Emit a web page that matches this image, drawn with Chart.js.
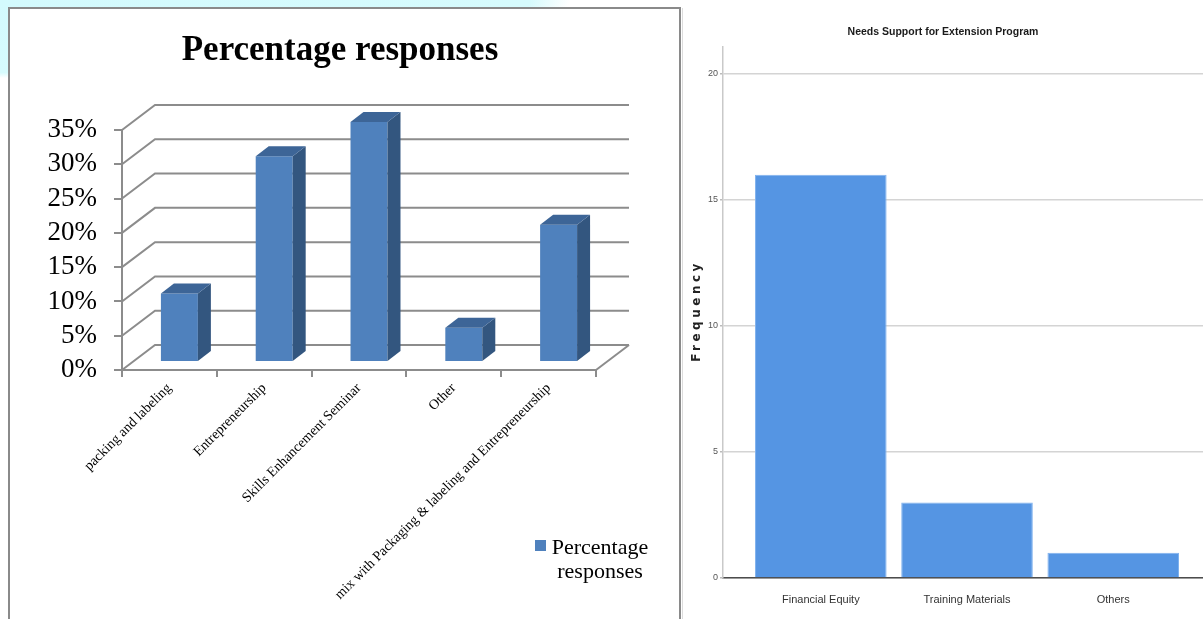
<!DOCTYPE html>
<html>
<head>
<meta charset="utf-8">
<script src="https://cdn.jsdelivr.net/npm/chart.js@4.4.1/dist/chart.umd.min.js"></script>
<style>
  html, body { margin: 0; padding: 0; }
  body {
    width: 1203px; height: 619px; overflow: hidden; position: relative;
    background: #fff radial-gradient(ellipse 570px 78px at 0 0, #d3fafd 0%, #d6fbfd 93%, rgba(214,251,253,0) 100%) no-repeat;
  }
  #leftBox {
    position: absolute; left: 8px; top: 7px; width: 669px; height: 700px;
    border: 2px solid #8a8a8a; background: #fff;
  }
  #rightLine { position: absolute; left: 682px; top: 8px; width: 1px; height: 611px; background: #dcdcdc; }
  #left { position: absolute; left: 0; top: 0; }
  #right { position: absolute; left: 683px; top: 0; }
</style>
</head>
<body>
<div id="leftBox"></div>
<div id="rightLine"></div>
<canvas id="left" width="680" height="619"></canvas>
<canvas id="right" width="520" height="619"></canvas>
<script>
// left chart: percentage responses
const responseCategories = ['packing and labeling', 'Entrepreneurship', 'Skills Enhancement Seminar', 'Other',
  'mix with Packaging & labeling and Entrepreneurship'];
const responsePercent = [10, 30, 35, 5, 20];

// right chart: needs support
const supportCategories = ['Financial Equity', 'Training Materials', 'Others'];
const supportFrequency = [16, 3, 1];

const serif = "'Liberation Serif', 'Times New Roman', serif";
const sans = "'Liberation Sans', Arial, sans-serif";

// 3d look for the excel style chart
const WALL_DX = 33, WALL_DY = -25;
const BAR_DX = 10, BAR_DY = -8;
const DEPTH_X = 13, DEPTH_Y = -10;
const gridGray = '#8c8c8c';

const wall3d = {
  id: 'wall3d',
  beforeDatasetsDraw(chart) {
    const ctx = chart.ctx, a = chart.chartArea, y = chart.scales.y;
    ctx.save();
    ctx.strokeStyle = gridGray;
    ctx.lineWidth = 2;
    y.ticks.forEach(t => {
      const py = y.getPixelForValue(t.value);
      ctx.beginPath();
      ctx.moveTo(a.left, py);
      ctx.lineTo(a.left + WALL_DX, py + WALL_DY);
      ctx.lineTo(a.right + WALL_DX, py + WALL_DY);
      ctx.stroke();
    });
    ctx.beginPath();
    ctx.moveTo(a.right, a.bottom);
    ctx.lineTo(a.right + WALL_DX, a.bottom + WALL_DY);
    ctx.stroke();
    ctx.restore();
    ctx.save();
    ctx.translate(BAR_DX, BAR_DY);
  },
  afterDatasetsDraw(chart) {
    const ctx = chart.ctx;
    ctx.restore();
    chart.getDatasetMeta(0).data.forEach(bar => {
      const l = bar.x - bar.width / 2 + BAR_DX, r = bar.x + bar.width / 2 + BAR_DX;
      const t = bar.y + BAR_DY, b = bar.base + BAR_DY;
      ctx.fillStyle = '#33567f';
      ctx.beginPath();
      ctx.moveTo(r, t); ctx.lineTo(r + DEPTH_X, t + DEPTH_Y);
      ctx.lineTo(r + DEPTH_X, b + DEPTH_Y); ctx.lineTo(r, b);
      ctx.closePath(); ctx.fill();
      ctx.fillStyle = '#3d6597';
      ctx.beginPath();
      ctx.moveTo(l, t); ctx.lineTo(l + DEPTH_X, t + DEPTH_Y);
      ctx.lineTo(r + DEPTH_X, t + DEPTH_Y); ctx.lineTo(r, t);
      ctx.closePath(); ctx.fill();
    });
  }
};

const legendBox = {
  id: 'legendBox',
  afterDraw(chart) {
    const ctx = chart.ctx;
    const ds = chart.data.datasets[0];
    ctx.save();
    ctx.fillStyle = ds.backgroundColor;
    ctx.fillRect(535, 540, 11, 11);
    ctx.fillStyle = '#000';
    ctx.font = '22px ' + serif;
    ctx.textAlign = 'center';
    ctx.textBaseline = 'alphabetic';
    ds.label.split(' ').forEach((w, i) => ctx.fillText(w, 600, 554 + i * 24));
    ctx.restore();
  }
};

new Chart(document.getElementById('left'), {
  type: 'bar',
  data: {
    labels: responseCategories,
    datasets: [{
      label: 'Percentage responses',
      data: responsePercent,
      backgroundColor: '#4f81bd',
      barPercentage: 0.39,
      categoryPercentage: 1
    }]
  },
  options: {
    responsive: false,
    animation: false,
    layout: { padding: 0 },
    plugins: {
      legend: { display: false },
      tooltip: { enabled: false },
      title: {
        display: true,
        text: 'Percentage responses',
        color: '#000',
        font: { family: serif, size: 35, weight: 'bold', lineHeight: 1.2 },
        padding: { top: 30, bottom: 58 }
      }
    },
    scales: {
      x: {
        afterFit: s => { s.height = 249; },
        grid: { offset: true, drawOnChartArea: false, drawTicks: true, tickLength: 7, color: gridGray, lineWidth: 2 },
        border: { display: true, color: gridGray, width: 2 },
        ticks: {
          autoSkip: false, minRotation: 45, maxRotation: 45, padding: 3,
          color: '#000', font: { family: serif, size: 14 }
        }
      },
      y: {
        min: 0, max: 35,
        afterFit: s => { s.width = 122; },
        grid: { drawOnChartArea: false, drawTicks: true, tickLength: 8, color: gridGray, lineWidth: 2 },
        border: { display: true, color: gridGray, width: 2 },
        ticks: {
          stepSize: 5, autoSkip: false, padding: 17, color: '#000',
          font: { family: serif, size: 27 },
          callback: v => v + '%'
        }
      },
      // empty right-hand space, keeps the title centred on the whole panel
      side: {
        position: 'right',
        display: true,
        afterFit: s => { s.width = 84; },
        grid: { display: false },
        border: { display: false },
        ticks: { display: false }
      }
    }
  },
  plugins: [wall3d, legendBox]
});

const freqTitle = {
  id: 'freqTitle',
  afterDraw(chart) {
    const ctx = chart.ctx;
    ctx.save();
    ctx.translate(14, 313);
    ctx.rotate(-Math.PI / 2);
    ctx.font = "bold 12px 'DejaVu Sans', sans-serif";
    ctx.letterSpacing = '3.5px';
    ctx.fillStyle = '#222';
    ctx.textAlign = 'center';
    ctx.textBaseline = 'middle';
    ctx.fillText('Frequency', 2, 0);
    ctx.restore();
  }
};

new Chart(document.getElementById('right'), {
  type: 'bar',
  data: {
    datasets: [{
      label: 'Frequency',
      data: supportFrequency.map((v, i) => ({ x: i, y: v })),
      backgroundColor: '#5595e3',
      borderColor: '#80b2ee',
      borderWidth: 1,
      barPercentage: 0.9,
      categoryPercentage: 1
    }]
  },
  options: {
    responsive: false,
    animation: false,
    layout: { padding: 0 },
    plugins: {
      legend: { display: false },
      tooltip: { enabled: false },
      title: {
        display: true,
        text: 'Needs Support for Extension Program',
        color: '#1a1a1a',
        font: { family: sans, size: 10.5, weight: 'bold', lineHeight: 1.2 },
        padding: { top: 26, bottom: 8.4 }
      }
    },
    scales: {
      x: {
        type: 'linear',
        offset: false,
        min: -0.669, max: 2.614,
        afterFit: s => { s.height = 41; },
        afterBuildTicks: s => { s.ticks = supportCategories.map((c, i) => ({ value: i })); },
        grid: { display: false, drawTicks: false },
        border: { display: true, color: '#4d4d4d', width: 1.5 },
        ticks: {
          autoSkip: false, maxRotation: 0, padding: 15, color: '#333',
          font: { family: sans, size: 11 },
          callback: v => supportCategories[v]
        }
      },
      y: {
        min: 0, max: 21.07,
        afterFit: s => { s.width = 40; },
        grid: { color: '#d4d4d4', lineWidth: 1.5, drawTicks: true, tickLength: 3, tickColor: '#bbb' },
        border: { display: true, color: '#c9c9c9', width: 1.5 },
        ticks: {
          stepSize: 5, includeBounds: false, padding: 2, color: '#555',
          font: { family: sans, size: 9 }
        }
      }
    }
  },
  plugins: [freqTitle]
});
</script>
</body>
</html>
